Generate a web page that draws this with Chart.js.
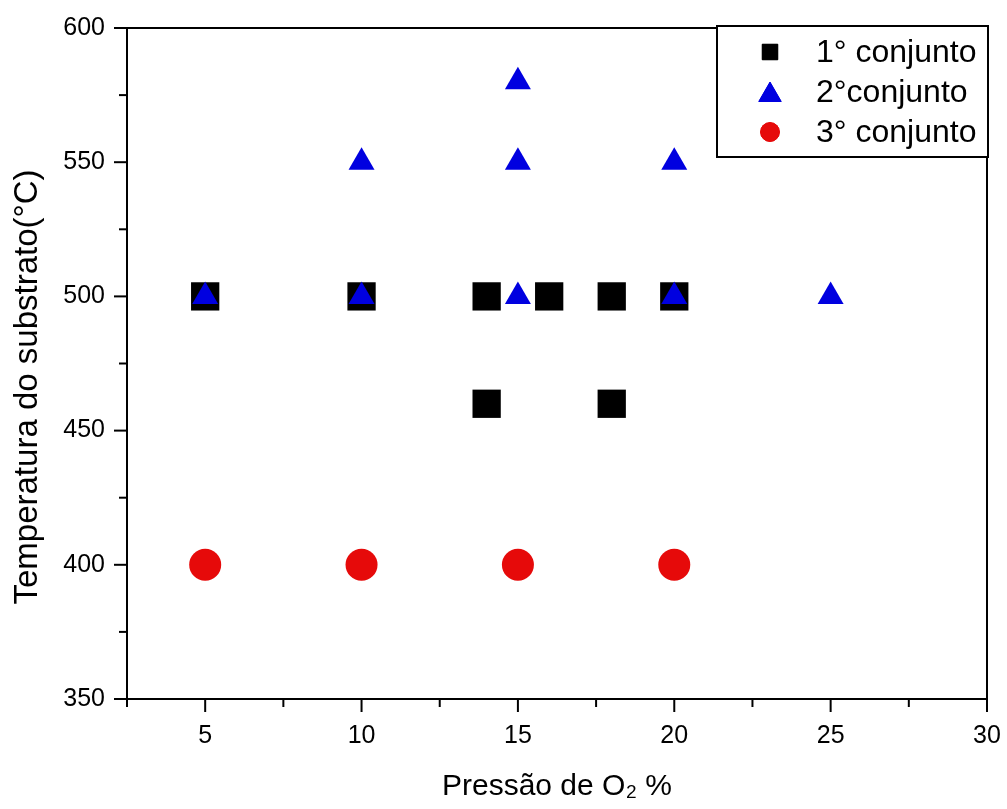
<!DOCTYPE html>
<html lang="pt">
<head>
  <meta charset="UTF-8" />
  <title>Temperatura x Pressão</title>
  <script src="https://cdn.jsdelivr.net/npm/chart.js"></script>
  <style>
    html, body { margin: 0; padding: 0; background: #fff; overflow: hidden; }
    .chart-wrapper { position: relative; width: 1007px; height: 809px; }
    canvas { display: block; }
  </style>
</head>
<body>
<div class="chart-wrapper">
  <canvas id="grafico"></canvas>
</div>

<script>
  // dados
  const nomesSeries = ['1° conjunto', '2°conjunto', '3° conjunto'];

  const conjunto1X = [5, 10, 14, 16, 18, 20, 14, 18];
  const conjunto1Y = [500, 500, 500, 500, 500, 500, 460, 460];

  const conjunto2X = [5, 10, 10, 15, 15, 15, 20, 20, 25];
  const conjunto2Y = [500, 500, 550, 580, 550, 500, 550, 500, 500];

  const conjunto3X = [5, 10, 15, 20];
  const conjunto3Y = [400, 400, 400, 400];

  const ticksX = [5, 10, 15, 20, 25, 30];
  const ticksY = [350, 400, 450, 500, 550, 600];

  const tituloX = 'Pressão de O₂ %';
  const tituloY = 'Temperatura do substrato(°C)';

  const fonte = '"Liberation Sans", Arial, sans-serif';

  function pontos(xs, ys) {
    return xs.map((x, i) => ({ x: x, y: ys[i] }));
  }

  const estilos = [
    { pointStyle: 'rect', cor: '#000000', raio: 20, raioLegenda: 11 },
    { pointStyle: 'triangle', cor: '#0000e0', raio: 15, raioLegenda: 13 },
    { pointStyle: 'circle', cor: '#e60a0a', raio: 16, raioLegenda: 9.5 }
  ];

  // ticks maiores e menores, moldura, legenda e título do eixo y
  const pluginEixos = {
    id: 'eixos',
    afterDraw(chart) {
      const ctx = chart.ctx;
      const area = chart.chartArea;
      const sx = chart.scales.x;
      const sy = chart.scales.y;
      ctx.save();
      ctx.strokeStyle = '#000';
      ctx.lineWidth = 2;

      // moldura (topo e direita)
      ctx.beginPath();
      ctx.moveTo(area.left, area.top);
      ctx.lineTo(area.right, area.top);
      ctx.lineTo(area.right, area.bottom);
      ctx.stroke();

      sx.ticks.forEach(t => {
        const px = sx.getPixelForValue(t.value);
        const len = ticksX.includes(t.value) ? 13 : 8;
        ctx.beginPath();
        ctx.moveTo(px, area.bottom);
        ctx.lineTo(px, area.bottom + len);
        ctx.stroke();
      });
      sy.ticks.forEach(t => {
        const py = sy.getPixelForValue(t.value);
        const len = ticksY.includes(t.value) ? 13 : 8;
        ctx.beginPath();
        ctx.moveTo(area.left, py);
        ctx.lineTo(area.left - len, py);
        ctx.stroke();
      });

      // legenda
      const bx = 717, by = 26, bw = 271, bh = 131;
      ctx.fillStyle = '#fff';
      ctx.fillRect(bx, by, bw, bh);
      ctx.strokeRect(bx, by, bw, bh);
      ctx.font = '32px ' + fonte;
      ctx.textBaseline = 'middle';
      ctx.textAlign = 'left';
      nomesSeries.forEach((nome, i) => {
        const cy = by + 26 + i * 40;
        const e = estilos[i];
        ctx.fillStyle = e.cor;
        ctx.strokeStyle = e.cor;
        ctx.lineWidth = 1;
        Chart.helpers.drawPoint(ctx, { pointStyle: e.pointStyle, radius: e.raioLegenda, rotation: 0, borderWidth: 1 }, 770, cy + (i === 1 ? 3 : 0));
        ctx.fill();
        ctx.fillStyle = '#000';
        ctx.fillText(nome, 816, cy + 1);
      });

      // título do eixo y
      ctx.translate(28, 387);
      ctx.rotate(-Math.PI / 2);
      ctx.textAlign = 'center';
      ctx.fillStyle = '#000';
      ctx.font = '33px ' + fonte;
      ctx.fillText(tituloY, 0, 0);
      ctx.restore();
    }
  };

  const datasets = [
    { data: pontos(conjunto1X, conjunto1Y), order: 2 },
    { data: pontos(conjunto2X, conjunto2Y), order: 1 },
    { data: pontos(conjunto3X, conjunto3Y), order: 3 }
  ].map((d, i) => Object.assign(d, {
    label: nomesSeries[i],
    pointStyle: estilos[i].pointStyle,
    pointRadius: estilos[i].raio,
    pointHoverRadius: estilos[i].raio,
    backgroundColor: estilos[i].cor,
    borderColor: estilos[i].cor,
    borderWidth: 0,
    pointBorderWidth: 0
  }));

  const config = {
    type: 'scatter',
    data: { datasets: datasets },
    options: {
      responsive: true,
      maintainAspectRatio: false,
      animation: false,
      layout: { padding: { top: 28, right: 18, left: 0, bottom: 0 } },
      plugins: {
        legend: { display: false },
        tooltip: { enabled: false }
      },
      scales: {
        x: {
          type: 'linear',
          min: 2.5,
          max: 30,
          afterFit: s => { s.height = 110; s.paddingLeft = 0; s.paddingRight = 0; },
          border: { display: true, color: '#000', width: 2 },
          grid: { drawOnChartArea: false, drawTicks: false },
          ticks: {
            stepSize: 2.5,
            autoSkip: false,
            maxRotation: 0,
            padding: 22,
            color: '#000',
            font: { family: fonte, size: 25 },
            callback: v => ticksX.includes(v) ? v : ''
          },
          title: {
            display: true,
            text: tituloX,
            color: '#000',
            font: { family: fonte, size: 30 },
            padding: { top: 0, bottom: 4 }
          }
        },
        y: {
          type: 'linear',
          min: 350,
          max: 600,
          afterFit: s => { s.width = 127; s.paddingTop = 0; s.paddingBottom = 0; },
          border: { display: true, color: '#000', width: 2 },
          grid: { drawOnChartArea: false, drawTicks: false },
          ticks: {
            stepSize: 25,
            autoSkip: false,
            padding: 22,
            color: '#000',
            font: { family: fonte, size: 25 },
            callback: v => ticksY.includes(v) ? v : ''
          }
        }
      }
    },
    plugins: [pluginEixos]
  };

  const ctx = document.getElementById('grafico').getContext('2d');
  new Chart(ctx, config);
</script>
</body>
</html>
